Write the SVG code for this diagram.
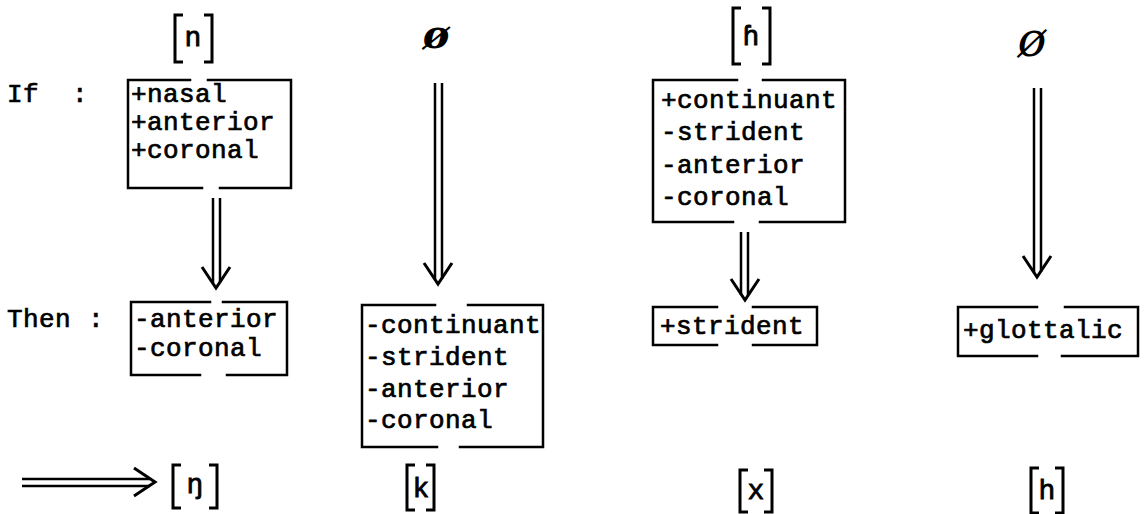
<svg xmlns="http://www.w3.org/2000/svg" width="1148" height="514" viewBox="0 0 1148 514">
<style>
.bg{fill:#fff}
.box{fill:none;stroke:#000;stroke-width:2.5;stroke-linecap:square}
.br{fill:none;stroke:#000;stroke-width:3}
.t{font-family:"Liberation Mono","DejaVu Sans Mono",monospace;font-size:26px;letter-spacing:0.4px;fill:#000;stroke:#000;stroke-width:0.7}
.sym{font-family:"Liberation Mono","DejaVu Sans Mono",monospace;font-size:28px;fill:#000;stroke:#000;stroke-width:0.8;text-anchor:middle}
.nul{font-family:"DejaVu Serif","Liberation Serif",serif;font-style:italic;fill:#000;text-anchor:middle}
.sh{stroke:#000;stroke-width:2.5;fill:none}
.hd{fill:none;stroke:#000;stroke-width:3;stroke-linejoin:miter}
</style>
<defs>
<path id="hd" class="hd" d="M-14,-21 L0,0 L14,-21"/>
</defs>
<rect class="bg" x="0" y="0" width="1148" height="514"/>

<g id="labels">
<text class="t" x="7" y="102">If</text>
<text class="t" x="72" y="102">:</text>
<text class="t" x="7" y="327">Then</text>
<text class="t" x="88" y="327">:</text>
</g>

<g id="sym-n">
<path class="br" d="M183,15 H175 V62 H183 M204,15 H212 V62 H204"/>
<text class="sym" x="193" y="46">n</text>
</g>
<g id="null-1">
<text class="nul" x="436" y="48" font-size="40" font-weight="bold">ø</text>
</g>
<g id="sym-hh">
<path class="br" d="M741,8 H733 V64 H741 M762,8 H770 V64 H762"/>
<text class="sym" x="751" y="45">ɦ</text>
</g>
<g id="null-2">
<text class="nul" x="1032" y="56" font-size="48">ø</text>
</g>

<g id="if-1">
<path class="box" d="M190,80 H128 V188 H202 M208,80 H291 V188 H220"/>
<text class="t" x="131" y="102">+nasal</text>
<text class="t" x="131" y="130">+anterior</text>
<text class="t" x="131" y="158">+coronal</text>
</g>
<g id="if-3">
<path class="box" d="M737,80 H653 V222 H733 M763,80 H845 V222 H760"/>
<text class="t" x="661" y="108">+continuant</text>
<text class="t" x="661" y="140">-strident</text>
<text class="t" x="661" y="173">-anterior</text>
<text class="t" x="661" y="205">-coronal</text>
</g>

<g id="then-1">
<path class="box" d="M210,302 H131 V375 H200 M223,302 H287 V375 H227"/>
<text class="t" x="134" y="327">-anterior</text>
<text class="t" x="134" y="356">-coronal</text>
</g>
<g id="then-2">
<path class="box" d="M435,305 H362 V447 H437 M468,305 H543 V447 H460"/>
<text class="t" x="365" y="333">-continuant</text>
<text class="t" x="365" y="365">-strident</text>
<text class="t" x="365" y="397">-anterior</text>
<text class="t" x="365" y="428">-coronal</text>
</g>
<g id="then-3">
<path class="box" d="M717,307 H653 V345 H717 M753,307 H817 V345 H753"/>
<text class="t" x="660" y="334">+strident</text>
</g>
<g id="then-4">
<path class="box" d="M1037,307 H958 V356 H1037 M1065,307 H1138 V356 H1062"/>
<text class="t" x="963" y="338">+glottalic</text>
</g>

<g id="out-1">
<path class="br" d="M181,465 H173 V508 H181 M209,465 H217 V508 H209"/>
<text class="sym" x="195" y="493">ŋ</text>
</g>
<g id="out-2">
<path class="br" d="M415,465 H407 V510 H415 M426,465 H434 V510 H426"/>
<text class="sym" x="421" y="497">k</text>
</g>
<g id="out-3">
<path class="br" d="M748,470 H740 V512 H748 M764,470 H772 V512 H764"/>
<text class="sym" x="756" y="499">x</text>
</g>
<g id="out-4">
<path class="br" d="M1039,468 H1031 V513 H1039 M1055,468 H1063 V513 H1055"/>
<text class="sym" x="1047" y="499">h</text>
</g>

<g id="connectors">
<path class="sh" d="M213,198 V283 M220,198 V283"/>
<use href="#hd" transform="translate(216,288)"/>
<path class="sh" d="M435,83 V279 M442,83 V279"/>
<use href="#hd" transform="translate(438,284)"/>
<path class="sh" d="M741,232 V295 M748,232 V295"/>
<use href="#hd" transform="translate(745,300)"/>
<path class="sh" d="M1034,88 V272 M1041,88 V272"/>
<use href="#hd" transform="translate(1037,277)"/>
<path class="sh" d="M22,479 H150 M22,486 H150"/>
<use href="#hd" transform="translate(155,482) rotate(-90)"/>
</g>
</svg>
